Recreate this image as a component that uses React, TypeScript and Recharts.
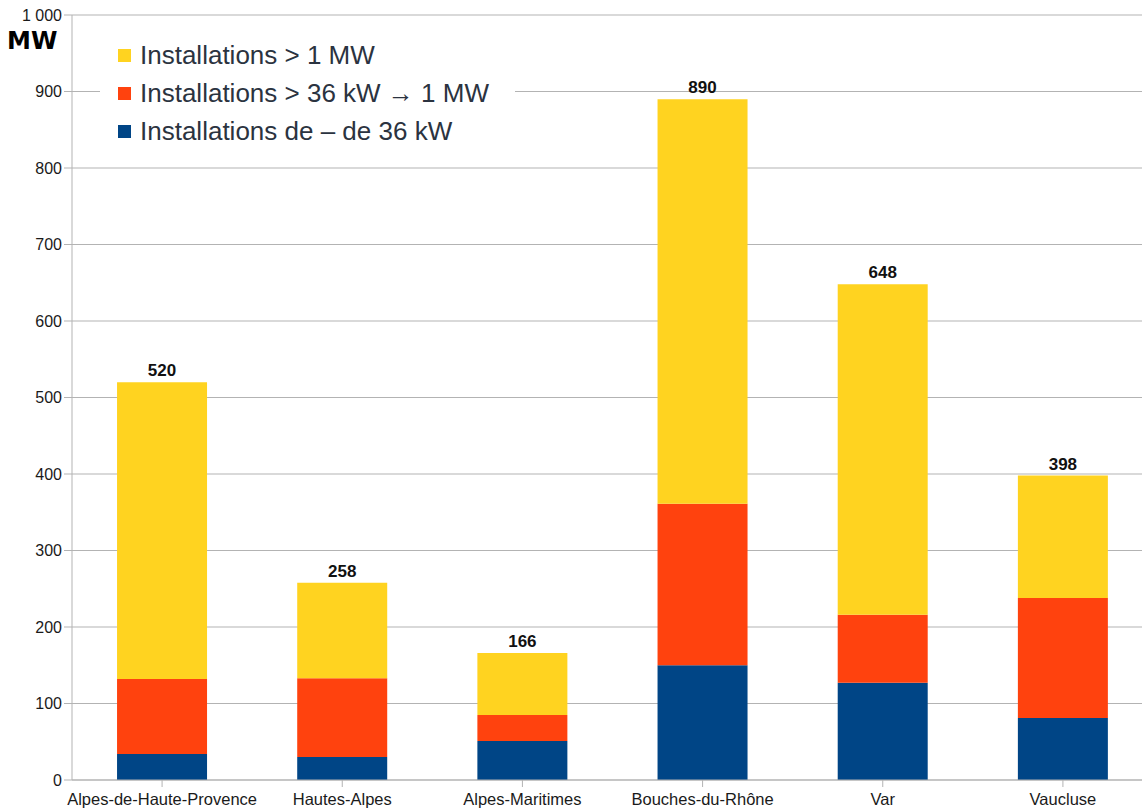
import { BarChart, Bar, XAxis, YAxis, CartesianGrid, LabelList } from 'recharts'

const departements = ['Alpes-de-Haute-Provence', 'Hautes-Alpes', 'Alpes-Maritimes', 'Bouches-du-Rhône', 'Var', 'Vaucluse']
const petites = [34, 30, 51, 150, 127, 81]
const moyennes = [98, 103, 34, 211, 89, 157]
const grandes = [388, 125, 81, 529, 432, 160]
const totaux = [520, 258, 166, 890, 648, 398]
const yTicks = [0, 100, 200, 300, 400, 500, 600, 700, 800, 900, 1000]

const data = departements.map((name, i) => ({
  name,
  petites: petites[i],
  moyennes: moyennes[i],
  grandes: grandes[i],
  total: totaux[i],
}))

const legendItems = [
  { color: '#ffd320', label: 'Installations > 1 MW' },
  { color: '#ff420e', label: 'Installations > 36 kW \u2192 1 MW' },
  { color: '#004586', label: 'Installations de \u2013 de 36 kW' },
]

function LegendBox() {
  return (
    <div style={{ position: 'absolute', left: 100, top: 35, width: 415, background: '#fff', padding: '1px 0 4px 18px', boxSizing: 'border-box' }}>
      {legendItems.map((item) => (
        <div key={item.label} style={{ display: 'flex', alignItems: 'center', height: 38 }}>
          <span style={{ width: 13, height: 13, background: item.color, marginRight: 9, display: 'inline-block', flexShrink: 0 }} />
          <span style={{ fontSize: 26, lineHeight: '38px', color: '#2b3340', fontFamily: 'Liberation Sans, Arial, sans-serif', whiteSpace: 'nowrap' }}>
            {item.label}
          </span>
        </div>
      ))}
    </div>
  )
}

const formatTick = (v: number) => (v === 1000 ? '1 000' : String(v))

export default function App() {
  return (
    <div style={{ position: 'absolute', left: 0, top: 0, width: 1142, height: 811, overflow: 'hidden', background: '#fff' }}>
      <BarChart
        width={1160}
        height={811}
        data={data}
        barCategoryGap="25%"
        margin={{ top: 15, right: 7, bottom: 0, left: 0 }}
        style={{ fontFamily: 'Liberation Sans, Arial, sans-serif' }}
      >
        <CartesianGrid vertical={false} stroke="#b3b3b3" strokeWidth={1.2} />
        <XAxis
          dataKey="name"
          height={31}
          tickSize={7}
          tickMargin={6}
          stroke="#b3b3b3"
          tick={{ fill: '#1a1a1a', fontSize: 16.5 }}
          interval={0}
        />
        <YAxis
          width={72}
          domain={[0, 1000]}
          ticks={yTicks}
          tickFormatter={formatTick}
          tickSize={8}
          tickMargin={2}
          stroke="#b3b3b3"
          tick={{ fill: '#1a1a1a', fontSize: 16 }}
        />
        <Bar dataKey="petites" stackId="a" fill="#004586" isAnimationActive={false} />
        <Bar dataKey="moyennes" stackId="a" fill="#ff420e" isAnimationActive={false} />
        <Bar dataKey="grandes" stackId="a" fill="#ffd320" isAnimationActive={false}>
          <LabelList dataKey="total" position="top" offset={6} style={{ fill: '#111', fontSize: 17, fontWeight: 'bold' }} />
        </Bar>
      </BarChart>
      <LegendBox />
      <div
        style={{
          position: 'absolute',
          left: 7,
          top: 27,
          fontFamily: 'DejaVu Sans, sans-serif',
          fontWeight: 'bold',
          fontSize: 24,
          color: '#000',
        }}
      >
        MW
      </div>
    </div>
  )
}
